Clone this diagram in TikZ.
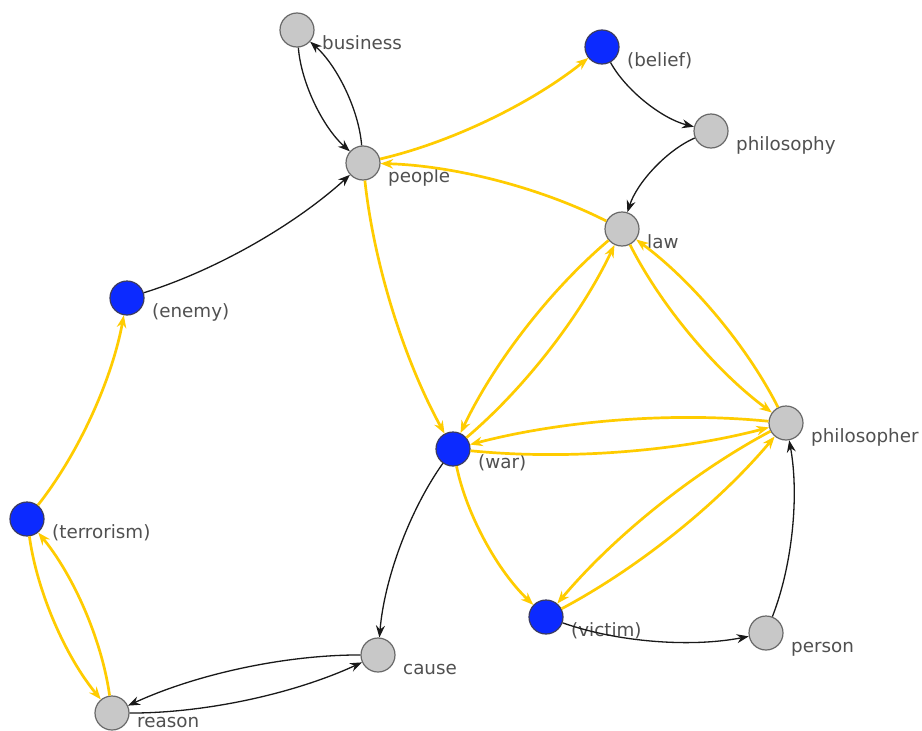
\documentclass[tikz,border=0pt]{standalone}
\usepackage{fontspec}
\setmainfont{DejaVu Sans}
\usetikzlibrary{arrows.meta,calc}
\definecolor{nodegray}{RGB}{200,200,200}
\definecolor{nodeedge}{RGB}{105,105,105}
\definecolor{concept}{RGB}{12,42,255}
\definecolor{conceptedge}{RGB}{60,60,95}
\definecolor{linkyellow}{RGB}{255,204,0}
\definecolor{labeltext}{RGB}{80,80,80}
\begin{document}
\begin{tikzpicture}[x=1pt,y=1pt,
  vtx/.style={circle,draw=nodeedge,line width=1.2pt,fill=nodegray,minimum size=34pt,inner sep=0pt},
  hub/.style={vtx,draw=conceptedge,fill=concept},
  lbl/.style={anchor=base west,inner sep=0pt,text=labeltext,font=\fontsize{18.3}{21}\selectfont},
  % quadratic arc bowing 15pt to the right of the direction of travel
  arc/.style={to path={.. controls ($(\tikztostart)!1/3!(\tikztotarget)!20pt!-90:(\tikztotarget)$)
                          and ($(\tikztostart)!2/3!(\tikztotarget)!20pt!-90:(\tikztotarget)$) .. (\tikztotarget)}},
  plain/.style={arc,draw=black!90,line width=1.3pt,-{Stealth[length=12pt,width=9pt,inset=4pt]}},
  hot/.style={arc,draw=linkyellow,line width=2.7pt,-{Stealth[length=12.5pt,width=9.5pt,inset=4pt]}},
]
\useasboundingbox[fill=white] (0,0) rectangle (922,-731);

% vertices
\node[vtx] (business)    at (297,-30)  {};
\node[vtx] (people)      at (363,-163) {};
\node[hub] (belief)      at (602,-47)  {};
\node[vtx] (philosophy)  at (711,-131) {};
\node[vtx] (law)         at (622,-229) {};
\node[hub] (enemy)       at (127,-298) {};
\node[hub] (war)         at (453,-449) {};
\node[vtx] (philosopher) at (786,-423) {};
\node[hub] (terrorism)   at (27,-519)  {};
\node[hub] (victim)      at (546,-617) {};
\node[vtx] (person)      at (766,-633) {};
\node[vtx] (cause)       at (378,-655) {};
\node[vtx] (reason)      at (112,-713) {};

% vertex labels
\node[lbl] (business-l)    at (322,-49)  {business};
\node[lbl] (people-l)      at (388,-182) {people};
\node[lbl] (belief-l)      at (627,-66)  {(belief)};
\node[lbl] (philosophy-l)  at (736,-150) {philosophy};
\node[lbl] (law-l)         at (647,-248) {law};
\node[lbl] (enemy-l)       at (152,-317) {(enemy)};
\node[lbl] (war-l)         at (478,-468) {(war)};
\node[lbl] (philosopher-l) at (811,-442) {philosopher};
\node[lbl] (terrorism-l)   at (52,-538)  {(terrorism)};
\node[lbl] (victim-l)      at (571,-636) {(victim)};
\node[lbl] (person-l)      at (791,-652) {person};
\node[lbl] (cause-l)       at (403,-674) {cause};
\node[lbl] (reason-l)      at (137,-727) {reason};

% plain links
\draw[plain] (business) to (people);
\draw[plain] (people) to (business);
\draw[plain] (enemy) to (people);
\draw[plain] (belief) to (philosophy);
\draw[plain] (philosophy) to (law);
\draw[plain] (war) to (cause);
\draw[plain] (victim) to (person);
\draw[plain] (person) to (philosopher);
\draw[plain] (cause) to (reason);
\draw[plain] (reason) to (cause);

% highlighted links
\draw[hot] (people) to (belief);
\draw[hot] (law) to (people);
\draw[hot] (people) to (war);
\draw[hot] (war) to (law);
\draw[hot] (law) to (war);
\draw[hot] (law) to (philosopher);
\draw[hot] (philosopher) to (law);
\draw[hot] (war) to (philosopher);
\draw[hot] (philosopher) to (war);
\draw[hot] (victim) to (philosopher);
\draw[hot] (philosopher) to (victim);
\draw[hot] (war) to (victim);
\draw[hot] (terrorism) to (enemy);
\draw[hot] (terrorism) to (reason);
\draw[hot] (reason) to (terrorism);
\end{tikzpicture}
\end{document}
